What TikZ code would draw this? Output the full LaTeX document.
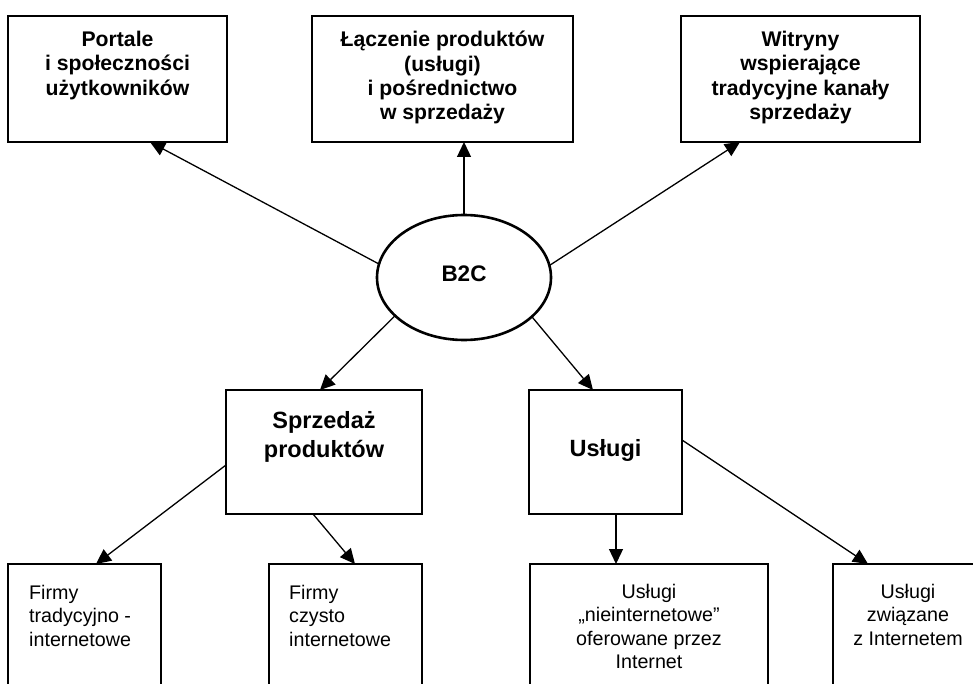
\documentclass[tikz,border=0pt]{standalone}
\usepackage{fontspec}
\setmainfont{Liberation Sans}
\usetikzlibrary{shapes.geometric,arrows.meta}
\begin{document}
\begin{tikzpicture}[x=1pt,y=-1pt,
  box/.style={draw,line width=1.8pt,rectangle,inner sep=0pt,outer sep=0pt,anchor=north west},
  ttl/.style={font=\bfseries\fontsize{21.2}{24.3}\selectfont,align=center,inner sep=0pt,anchor=north},
  mid/.style={font=\bfseries\fontsize{23.5}{29.5}\selectfont,align=center,inner sep=0pt,anchor=north},
  sml/.style={font=\fontsize{19.7}{23.3}\selectfont,inner sep=0pt},
  conn/.style={line width=1.3pt,-{Triangle[length=15pt,width=14pt]}},
  oval/.style={draw,ellipse,line width=2.6pt,inner sep=0pt,outer sep=0pt,minimum width=174pt,minimum height=125pt}]
\useasboundingbox (0,0) rectangle (973,684);
\clip (0,0) rectangle (973,684);
% top boxes
\node[box,minimum width=219pt,minimum height=126pt] (p1) at (8,16) {};
\node[box,minimum width=261pt,minimum height=126pt] (p2) at (312,16) {};
\node[box,minimum width=239pt,minimum height=126pt] (p3) at (681,16) {};
\node[ttl] (t1) at (117.5,31) {Portale\\i społeczności\\użytkowników};
\node[ttl] (t2) at (442.5,31) {Łączenie produktów\\(usługi)\\i pośrednictwo\\w sprzedaży};
\node[ttl] (t3) at (800.5,31) {Witryny\\wspierające\\tradycyjne kanały\\sprzedaży};
% centre
\node[oval,label={[font=\bfseries\fontsize{22.5}{27}\selectfont,yshift=4pt]center:B2C}] (b2c) at (464,277.5) {};
% middle boxes
\node[box,minimum width=196pt,minimum height=124pt] (sp) at (226,390) {};
\node[box,minimum width=153pt,minimum height=124pt] (us) at (529,390) {};
\node[mid] (tsp) at (324,411) {Sprzedaż\\produktów};
\node[font=\bfseries\fontsize{23.5}{29.5}\selectfont,inner sep=0pt] (tus) at (605.5,450) {Usługi};
% bottom boxes
\node[box,minimum width=153pt,minimum height=140pt] (fa) at (8,564) {};
\node[box,minimum width=153pt,minimum height=140pt] (fb) at (269,564) {};
\node[box,minimum width=238pt,minimum height=140pt] (fc) at (530,564) {};
\node[box,minimum width=150pt,minimum height=140pt] (fd) at (833,564) {};
\node[sml,align=left,anchor=north west] (tfa) at (29,585) {Firmy\\tradycyjno -\\internetowe};
\node[sml,align=left,anchor=north west] (tfb) at (289,585) {Firmy\\czysto\\internetowe};
\node[sml,align=center,anchor=north] (tfc) at (649,584) {Usługi\\„nieinternetowe”\\oferowane przez\\Internet};
\node[sml,align=center,anchor=north] (tfd) at (908,584) {Usługi\\związane\\z Internetem};
% connectors
\draw[conn] (b2c.171.4) -- ([xshift=32.5pt]p1.south);
\draw[conn] (b2c.north) -- (b2c.north |- p2.south);
\draw[conn] (b2c.8.6) -- ([xshift=-60.5pt]p3.south);
\draw[conn] (b2c.209.6) -- ([xshift=-4pt]sp.north);
\draw[conn] (b2c.330.4) -- ([xshift=-12.5pt]us.north);
\draw[conn] ([yshift=-13pt]sp.west) -- ([xshift=11.5pt]fa.north);
\draw[conn] ([xshift=-11pt]sp.south) -- ([xshift=9.5pt]fb.north);
\draw[conn] ([xshift=10.5pt]us.south) -- ([xshift=10.5pt]us.south |- fc.north);
\draw[conn] ([yshift=12pt]us.east) -- ([xshift=-40pt]fd.north);
\end{tikzpicture}
\end{document}
